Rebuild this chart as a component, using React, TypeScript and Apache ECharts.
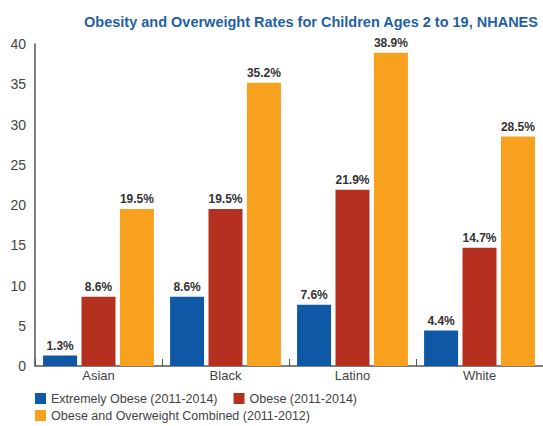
import React, { useEffect, useRef } from "react";
import * as echarts from "echarts";

const categories = ["Asian", "Black", "Latino", "White"];
const extremelyObese = [1.3, 8.6, 7.6, 4.4];
const obese = [8.6, 19.5, 21.9, 14.7];
const combined = [19.5, 35.2, 38.9, 28.5];
const seriesNames = [
  "Extremely Obese (2011-2014)",
  "Obese (2011-2014)",
  "Obese and Overweight Combined (2011-2012)",
];
const yTicks = { min: 0, max: 40, interval: 5 };

export default function App() {
  const ref = useRef<HTMLDivElement>(null);
  useEffect(() => {
    if (!ref.current) return;
    document.body.style.margin = "0";
    document.body.style.overflow = "hidden";
    const chart = echarts.init(ref.current, null, { renderer: "svg" });
    const labelStyle = {
      show: true,
      position: "top" as const,
      formatter: "{c}%",
      fontFamily: "Liberation Sans",
      fontWeight: "bold" as const,
      fontSize: 12,
      color: "#333",
      distance: 4,
    };
    chart.setOption({
      animation: false,
      backgroundColor: "#fff",
      title: {
        text: "Obesity and Overweight Rates for Children Ages 2 to 19, NHANES",
        left: 306,
        textAlign: "center",
        top: 9,
        textStyle: {
          fontFamily: "Liberation Sans",
          fontWeight: "bold",
          fontSize: 14.5,
          color: "#1F5FA6",
        },
      },
      legend: [
        {
          data: [seriesNames[0], seriesNames[1]],
          left: 30,
          top: 387,
          itemWidth: 11,
          itemHeight: 11,
          itemGap: 16,
          icon: "rect",
          textStyle: { fontFamily: "Liberation Sans", fontSize: 12.5, color: "#444" },
        },
        {
          data: [seriesNames[2]],
          left: 30,
          top: 404,
          itemWidth: 11,
          itemHeight: 11,
          icon: "rect",
          textStyle: { fontFamily: "Liberation Sans", fontSize: 12.5, color: "#444" },
        },
      ],
      grid: { left: 35, top: 44, width: 515, height: 322 },
      xAxis: {
        type: "category",
        data: categories,
        axisLine: { lineStyle: { color: "#555", width: 1.5 } },
        axisTick: { show: true, inside: true, length: 7, lineStyle: { color: "#555" } },
        axisLabel: {
          fontFamily: "Liberation Sans",
          fontSize: 13,
          color: "#444",
          margin: 3,
        },
      },
      yAxis: {
        type: "value",
        min: yTicks.min,
        max: yTicks.max,
        interval: yTicks.interval,
        splitLine: { show: false },
        axisLine: { show: true, lineStyle: { color: "#555", width: 1.5 } },
        axisTick: { show: false },
        axisLabel: {
          fontFamily: "Liberation Sans",
          fontSize: 14,
          color: "#444",
          margin: 9,
        },
      },
      series: [
        {
          name: seriesNames[0],
          type: "bar",
          data: extremelyObese,
          barWidth: 34,
          barGap: "13%",
          itemStyle: { color: "#0F58A5" },
          label: labelStyle,
        },
        {
          name: seriesNames[1],
          type: "bar",
          data: obese,
          barWidth: 34,
          barGap: "13%",
          itemStyle: { color: "#B5301F" },
          label: labelStyle,
        },
        {
          name: seriesNames[2],
          type: "bar",
          data: combined,
          barWidth: 34,
          barGap: "13%",
          itemStyle: { color: "#F7A11E" },
          label: labelStyle,
        },
      ],
    });
    return () => chart.dispose();
  }, []);
  return (
    <div
      ref={ref}
      style={{ position: "fixed", left: 0, top: 0, width: 543, height: 426 }}
    />
  );
}
